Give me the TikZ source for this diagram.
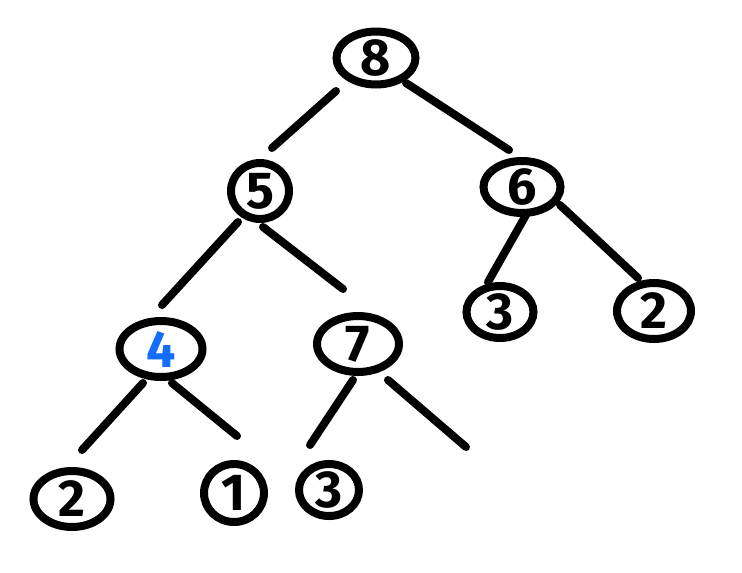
\documentclass[tikz,border=0pt]{standalone}
\usepackage{fontspec}
\setsansfont{Fira Sans}
\usepackage{tikz}
\usetikzlibrary{calc,shapes.geometric}
\definecolor{ink}{RGB}{0,0,0}
\definecolor{mark}{RGB}{20,110,250}
\tikzset{
  vtx/.style 2 args={ellipse, draw=ink, line width=2mm, inner sep=0pt,
    minimum width=#1*0.25mm, minimum height=#2*0.25mm,
    font=\fontsize{37}{37}\sffamily\bfseries},
  link/.style={draw=ink, line width=2mm, line cap=round},
}
\begin{document}
\begin{tikzpicture}[x=0.25mm, y=-0.25mm]
  \useasboundingbox (0,0) rectangle (742,572);
  % the tree
  \node[vtx={79}{53}] (n8) at (376,58) {8};
  \node[vtx={58}{56}] (n5) at (260,191) {5};
  \node[vtx={77}{50}] (n6) at (522,187) {6};
  \node[vtx={83}{56}, text=mark] (n4) at (161,349) {4};
  \node[vtx={82}{56}] (n7) at (358,344) {7};
  \node[vtx={67}{40}] (n3a) at (500,312) {3};
  \node[vtx={74}{56}] (n2a) at (654,311) {2};
  \node[vtx={77}{56}] (n2b) at (72,499) {2};
  \node[vtx={60}{58}] (n1) at (234,493) {1};
  \node[vtx={60}{46}] (n3b) at (329,490) {3};
  \coordinate (e7) at (466,447);
  % edges, hand placed ends
  \foreach \a/\b/\p/\q in {n8/n5/{-40,33}/{12,-43}, n8/n6/{30,25}/{-13,-37},
      n5/n4/{-22,31}/{1,-44}, n5/n7/{3,36}/{-15,-55},
      n6/n3a/{4,28}/{-12,-30}, n6/n2a/{38,18}/{-16,-33},
      n4/n2b/{-18,34}/{10,-49}, n4/n1/{11,34}/{3,-57},
      n7/n3b/{-5,36}/{-19,-45}, n7/e7/{30,36}/{0,0}}
    \draw[link] ($(\a)+(\p)$) -- ($(\b)+(\q)$);
\end{tikzpicture}
\end{document}
